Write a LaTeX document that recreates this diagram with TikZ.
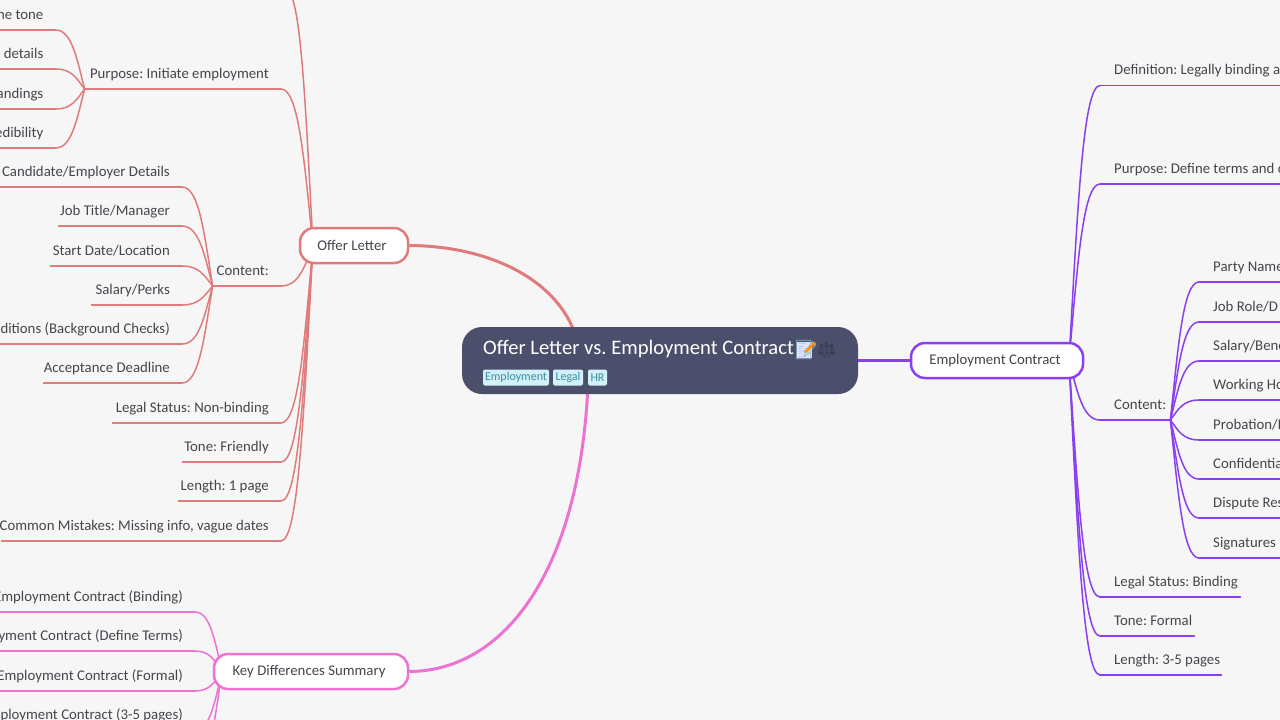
\documentclass[tikz,border=0pt]{standalone}
\usepackage{fontspec}
\setmainfont{Carlito}
\newfontfamily\emojifont{Noto Emoji}
\usetikzlibrary{calc,backgrounds}
\definecolor{pagebg}{HTML}{F6F6F6}
\definecolor{rootfill}{HTML}{4C4F6B}
\definecolor{inktext}{HTML}{45454D}
\definecolor{redline}{HTML}{E07B7B}
\definecolor{purpleline}{HTML}{8A3FF0}
\definecolor{pinkline}{HTML}{EE72D2}
\definecolor{tagfill}{HTML}{D2F2FA}
\definecolor{tagtext}{HTML}{3E8BA3}
\tikzset{
  leaf/.style={inner sep=0pt,text height=11pt,text depth=10.5pt,font=\fontsize{14.8}{17}\selectfont,text=inktext},
  branch/.style={draw=#1,line width=2.5pt,fill=white,rounded corners=14pt,inner sep=0pt,text=inktext,font=\fontsize{14.8}{17}\selectfont},
  tag/.style={fill=tagfill,rounded corners=2pt,inner sep=0pt,text=tagtext,font=\fontsize{12}{14}\selectfont,minimum height=16pt},
  wire/.style={line width=1.5pt,line cap=round},
  trunk/.style={line width=3pt}
}
% item to the left of its parent: text right-aligned, rule below
\newcommand\itemL[5]{\pgfmathsetmacro\itemw{#3-#2}\node[leaf,anchor=south east] (#1) at (#3,#4) {\makebox[\itemw pt][r]{#5\hspace{12pt}}};}
\newcommand\itemR[5]{\pgfmathsetmacro\itemw{#3-#2}\node[leaf,anchor=south west] (#1) at (#2,#4) {\makebox[\itemw pt][l]{\hspace{14pt}#5}};}
% curve from rule end to hub
\newcommand\linkto[3]{\draw[wire,#1] let \p1=(#2), \p2=(#3), \n1={\x2-\x1}, \n2={\y2-\y1} in (\p1) .. controls (\x1+.55*\n1,\y1) and (\x1+.72*\n1,\y1+.45*\n2) .. (\p2);}
\newcommand\ruleL[3]{\draw[wire,#1] (#2.south west) -- (#2.south east); \linkto{#1}{#2.south east}{#3}}
\newcommand\ruleR[3]{\draw[wire,#1] (#2.south east) -- (#2.south west); \linkto{#1}{#2.south west}{#3}}
\newcommand\shifted[1]{\raisebox{1pt}{#1\hspace{4pt}}}
\begin{document}
\frenchspacing
\begin{tikzpicture}[x=1pt,y=-1pt]
\useasboundingbox (0,0) rectangle (1280,720);
\clip (0,0) rectangle (1280,720);
% main nodes
\node[draw=none,fill=rootfill,rounded corners=20pt,minimum width=396pt,minimum height=67pt,inner sep=0pt] (root) at (660,360.5) {};
\node[anchor=base west,inner sep=0pt,text=white,font=\fontsize{20.6}{25}\selectfont] (title) at (483,354.5) {Offer Letter vs. Employment Contract};
\fill[white!88!blue] (797,342) rectangle (812,358);
\node[anchor=base west,inner sep=0pt,text=tagtext!60!white,font=\emojifont\fontsize{19}{24}\selectfont] (memo) at (794,356) {📝};
\draw[line width=2.5pt,orange!85!yellow] (805,352.5) -- (814.5,342.5);
\node[anchor=base west,inner sep=0pt,text=rootfill!70!black,font=\emojifont\fontsize{15}{24}\selectfont] (scales) at (817,355) {⚖};
\node[tag,minimum width=66pt] (t1) at (516,377.5) {Employment};
\node[tag,minimum width=30pt] (t2) at (568,377.5) {Legal};
\node[tag,minimum width=19pt] (t3) at (597.5,377.5) {HR};
\node[branch=redline,minimum width=108pt,minimum height=35pt] (offer) at (354,245.5) {\shifted{Offer Letter}};
\node[branch=purpleline,minimum width=172pt,minimum height=35pt] (emp) at (997,360.5) {\shifted{Employment Contract}};
\node[branch=pinkline,minimum width=194pt,minimum height=35pt] (key) at (311,671.5) {\shifted{Key Differences Summary}};
% left: offer letter
\coordinate (offerhub) at ($(offer.center)+(-41,0)$);
\coordinate (offertop) at (286,-10);
\itemL{purpose}{85}{281}{89}{Purpose: Initiate employment}
\itemL{content}{213}{281}{286}{Content:}
\itemL{legal}{113}{281}{423}{Legal Status: Non-binding}
\itemL{tone}{183}{281}{462}{Tone: Friendly}
\itemL{length}{179}{281}{501}{Length: 1 page}
\itemL{mistakes}{2}{281}{541}{Common Mistakes: Missing info, vague dates}
\coordinate (puhub) at (purpose.south west);
\coordinate (cohub) at (content.south west);
\itemL{pa}{-5}{55.5}{30}{he tone}
\itemL{pb}{-5}{55.5}{69}{details}
\itemL{pc}{-5}{55.5}{109}{andings}
\itemL{pd}{-5}{55.5}{148}{edibility}
\itemL{ca}{-5}{182}{187}{Candidate/Employer Details}
\itemL{cb}{59}{182}{226}{Job Title/Manager}
\itemL{cc}{51}{182}{266}{Start Date/Location}
\itemL{cd}{92}{182}{305}{Salary/Perks}
\itemL{ce}{-5}{182}{344}{ditions (Background Checks)}
\itemL{cf}{44}{182}{383}{Acceptance Deadline}
% key differences
\coordinate (keyhub) at ($(key.center)+(-89,0)$);
\coordinate (ke) at (193,769);
\itemL{ka}{-5}{195}{612}{Employment Contract (Binding)}
\itemL{kb}{-5}{195}{651}{yment Contract (Define Terms)}
\itemL{kc}{-5}{195}{691}{Employment Contract (Formal)}
\itemL{kf}{-5}{195}{730}{mployment Contract (3-5 pages)}
% right: employment contract
\coordinate (emphub) at ($(emp.center)+(72,0)$);
\itemR{edef}{1100}{1285}{85.5}{Definition: Legally binding a}
\itemR{epur}{1100}{1285}{184}{Purpose: Define terms and c}
\itemR{econ}{1100}{1170}{420}{Content:}
\itemR{eleg}{1100}{1240}{597}{Legal Status: Binding}
\itemR{eton}{1100}{1194}{636}{Tone: Formal}
\itemR{elen}{1100}{1221}{675}{Length: 3-5 pages}
\coordinate (econhub) at (econ.south east);
\itemR{ea}{1199}{1285}{282}{Party Name}
\itemR{eb}{1199}{1285}{322}{Job Role/D}
\itemR{ec}{1199}{1285}{361}{Salary/Bene}
\itemR{ed}{1199}{1285}{400}{Working Ho}
\itemR{ee}{1199}{1285}{440}{Probation/L}
\itemR{ef}{1199}{1285}{479}{Confidentia}
\itemR{eg}{1199}{1285}{518}{Dispute Res}
\itemR{eh}{1199}{1285}{558}{Signatures}
\begin{pgfonlayer}{background}
\fill[pagebg] (0,0) rectangle (1280,720);
\draw[trunk,redline] (offer.east) .. controls (490,246) and (558,280) .. ($(root.north)+(-84,10)$);
\draw[trunk,purpleline] (root.east) -- (emp.west);
\draw[trunk,pinkline] (key.east) .. controls (505,671) and (580,570) .. ($(root.south)+(-72,-10)$);
\linkto{redline}{offertop}{offerhub}
\foreach \nm in {purpose,content,legal,tone,length,mistakes}{\ruleL{redline}{\nm}{offerhub}}
\foreach \nm in {pa,pb,pc,pd}{\ruleL{redline}{\nm}{puhub}}
\foreach \nm in {ca,cb,cc,cd,ce,cf}{\ruleL{redline}{\nm}{cohub}}
\foreach \nm in {ka,kb,kc,kf}{\ruleL{pinkline}{\nm}{keyhub}}
\linkto{pinkline}{ke}{keyhub}
\foreach \nm in {edef,epur,econ,eleg,eton,elen}{\ruleR{purpleline}{\nm}{emphub}}
\foreach \nm in {ea,eb,ec,ed,ee,ef,eg,eh}{\ruleR{purpleline}{\nm}{econhub}}
\end{pgfonlayer}
\end{tikzpicture}
\end{document}
